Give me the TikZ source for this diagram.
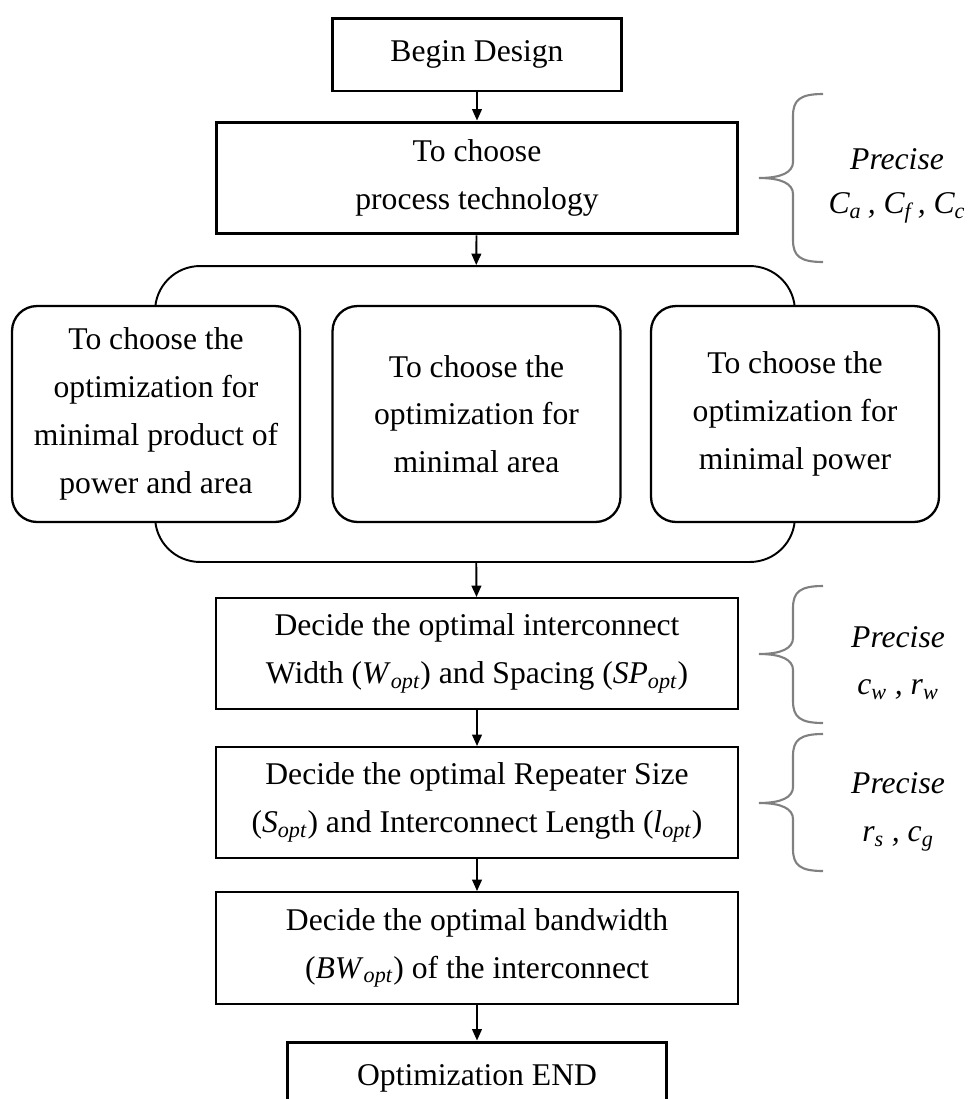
\documentclass[tikz,border=0pt]{standalone}
\usepackage{fontspec}
\setmainfont{Liberation Serif}
\usepackage{tikz}
\usetikzlibrary{arrows.meta}
\usepackage{xcolor}
\definecolor{cgris}{RGB}{128,128,128}
\newcommand\varidx[2]{\textit{#1}\textsubscript{\textit{#2}}}

\begin{document}
\begin{tikzpicture}[x=0.02cm, y=-0.02cm, >={Triangle[length=6.5pt,width=5.5pt]},
  every node/.style={font=\fontsize{18}{27.2}\selectfont},
  boite/.style={draw, line width=1.1pt, fill=white, align=center, inner sep=0pt},
  epaisse/.style={line width=1.7pt},
  arrondie/.style={boite, line width=1.3pt, rounded corners=0.5cm, minimum width=5.76cm, minimum height=4.32cm},
  fleche/.style={->, line width=1.1pt},
  accolade/.style={cgris, line width=1.2pt},
  precis/.style={align=center, font=\fontsize{18}{27.2}\selectfont\itshape}]
\clip (0,0) rectangle (972,1099);
\node[boite, epaisse, minimum width=5.78cm, minimum height=1.46cm] (debut) at (477,54.5) {Begin Design};
\node[boite, epaisse, minimum width=10.44cm, minimum height=2.24cm] (procede) at (477,178) {To choose\\process technology};
\node[draw, line width=1.1pt, rounded corners=0.9cm, minimum width=12.8cm, minimum height=5.92cm] (groupe) at (475,414) {};
\node[arrondie] (optA) at (156,414) {To choose the\\optimization for\\minimal product of\\power and area};
\node[arrondie] (optB) at (476.5,414) {To choose the\\optimization for\\minimal area};
\node[arrondie] (optC) at (795,414) {To choose the\\optimization for\\minimal power};
\node[boite, minimum width=10.44cm, minimum height=2.22cm] (largeur) at (477,653.5) {Decide the optimal interconnect\\Width (\varidx{W}{opt}) and Spacing (\varidx{SP}{opt})};
\node[boite, minimum width=10.44cm, minimum height=2.22cm] (repeteur) at (477,802.5) {Decide the optimal Repeater Size\\(\varidx{S}{opt}) and Interconnect Length (\varidx{l}{opt})};
\node[boite, minimum width=10.44cm, minimum height=2.24cm] (bande) at (477,948) {Decide the optimal bandwidth\\(\varidx{BW}{opt}) of the interconnect};
\node[boite, epaisse, minimum width=7.58cm, minimum height=1.46cm] (fin) at (477,1078.5) {Optimization END};
\draw[fleche] (debut) -- (procede);
\draw[fleche] (procede) -- (groupe);
\draw[fleche] (groupe) -- (largeur);
\draw[fleche] (largeur) -- (repeteur);
\draw[fleche] (repeteur) -- (bande);
\draw[fleche] (bande) -- (fin);
% accolades grises
\foreach \h/\m/\b in {94/178/262, 586/654/723, 734/803/871}
  \draw[accolade] (823,\h) .. controls (800,\h) and (793,{\h+6}) .. (793,{\h+22})
    -- (793,{\m-16}) .. controls (793,{\m-6}) and (782,\m) .. (759,\m)
    .. controls (782,\m) and (793,{\m+6}) .. (793,{\m+16})
    -- (793,{\b-22}) .. controls (793,{\b-6}) and (800,\b) .. (823,\b);
\node[precis] (precisA) at (897,186) {Precise\\[-2pt]\varidx{C}{a}\kern-1pt{} , \varidx{C}{f}\kern-1pt{} , \varidx{C}{c}};
\node[precis] (precisB) at (898,663) {Precise\\\varidx{c}{w} , \varidx{r}{w}};
\node[precis] (precisC) at (898,812) {Precise\\\varidx{r}{s} , \varidx{c}{g}};
\end{tikzpicture}
\end{document}
